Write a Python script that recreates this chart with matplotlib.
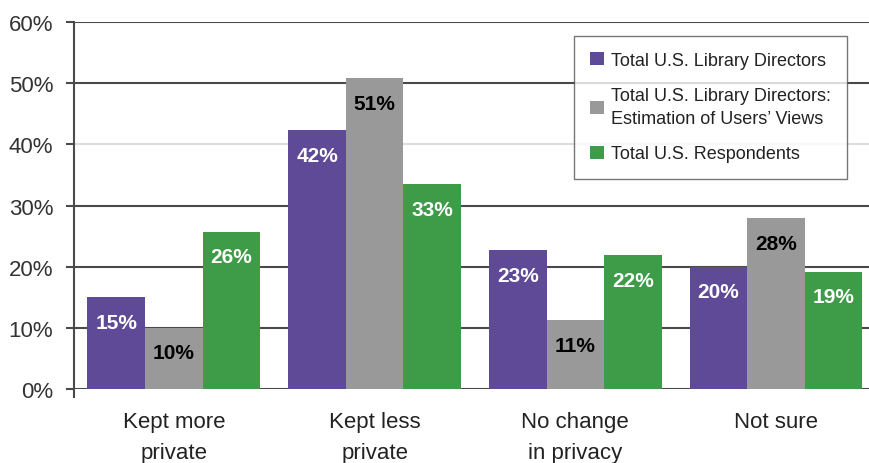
import matplotlib
matplotlib.use("Agg")
import matplotlib.pyplot as plt
import numpy as np

plt.rcParams['font.family'] = ['Liberation Sans', 'DejaVu Sans']

categories = ["Kept more\nprivate", "Kept less\nprivate", "No change\nin privacy", "Not sure"]
series_names = ["Total U.S. Library Directors",
                "Total U.S. Library Directors:\nEstimation of Users\u2019 Views",
                "Total U.S. Respondents"]
directors = [15.0, 42.3, 22.7, 20.0]
users_views = [10.0, 50.8, 11.2, 27.9]
respondents = [25.7, 33.5, 21.9, 19.2]
directors_lbl = ["15%", "42%", "23%", "20%"]
users_views_lbl = ["10%", "51%", "11%", "28%"]
respondents_lbl = ["26%", "33%", "22%", "19%"]
yticks = [0, 10, 20, 30, 40, 50, 60]

colors = ["#5E4A96", "#9A999A", "#3E9B47"]
text_colors = ["white", "black", "white"]

fig = plt.figure(figsize=(8.69, 4.64), dpi=100)
ax = fig.add_axes([0.0852, 0.1595, 0.9148, 0.7909])

x = np.arange(len(categories))
w = 0.287
series = [directors, users_views, respondents]
labels = [directors_lbl, users_views_lbl, respondents_lbl]

for yv in yticks:
    c = "#DDDDDD" if yv == 40 else "#4A4A4A"
    ax.axhline(yv, color=c, linewidth=1.5, zorder=1)

for i, (vals, lbls) in enumerate(zip(series, labels)):
    pos = x + (i - 1) * w
    ax.bar(pos, vals, width=w, color=colors[i], label=series_names[i], zorder=2)
    for px, v, t in zip(pos, vals, lbls):
        ax.annotate(t, (px, v), xytext=(0, -18), textcoords="offset points",
                    ha="center", va="center", fontsize=15, fontweight="bold",
                    color=text_colors[i], zorder=3)

ax.set_xlim(-0.4975, 3.463)
ax.set_ylim(0, 60)
ax.set_yticks(yticks)
ax.set_yticklabels([f"{v}%" for v in yticks], fontsize=16, color="#333333")
ax.tick_params(axis="y", length=6, width=1.5, color="#4A4A4A", pad=9)
ax.set_xticks(x)
ax.set_xticklabels(categories, fontsize=16, color="#222222", linespacing=1.6)
ax.tick_params(axis="x", length=0, pad=16)

for s in ["top", "right", "bottom"]:
    ax.spines[s].set_visible(False)
ax.spines["left"].set_color("#4A4A4A")
ax.spines["left"].set_linewidth(1.5)
ax.spines["left"].set_bounds(-1.3, 60)

leg = ax.legend(loc="upper right", bbox_to_anchor=(0.9725, 0.963), fontsize=13,
                frameon=True, fancybox=False, edgecolor="#555555",
                handlelength=0.75, handleheight=0.75, handletextpad=0.4,
                labelspacing=1.0, borderpad=0.9, borderaxespad=0)
leg.get_frame().set_linewidth(1.0)
for t in leg.get_texts():
    t.set_color("#222222")
    t.set_linespacing(1.5)

fig.savefig("out.png", dpi=100)
